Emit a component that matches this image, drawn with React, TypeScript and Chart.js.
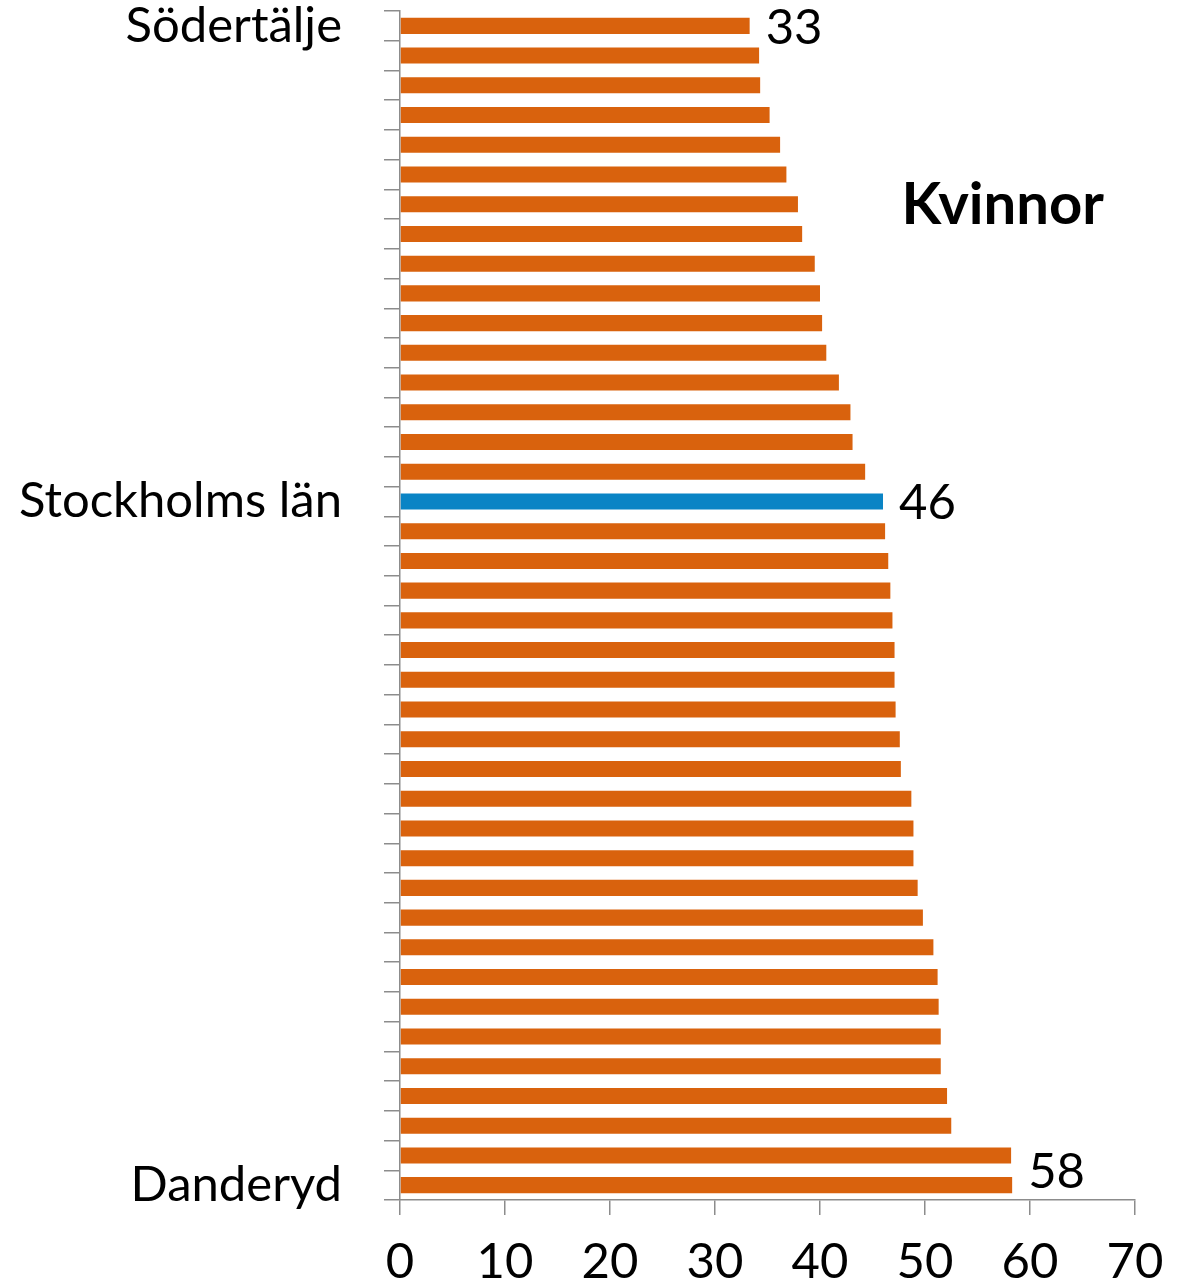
import React, { useEffect, useRef } from "react";
import { Chart, registerables } from "chart.js";

Chart.register(...registerables);

const categories: string[] = [
  "Södertälje", "", "", "", "", "", "", "", "", "", "", "", "", "", "", "",
  "Stockholms län",
  "", "", "", "", "", "", "", "", "", "", "", "", "", "", "", "", "", "", "", "", "", "",
  "Danderyd",
];

const values: number[] = [
  33.3, 34.2, 34.3, 35.2, 36.2, 36.8, 37.9, 38.3, 39.5, 40.0,
  40.2, 40.6, 41.8, 42.9, 43.1, 44.3, 46.0, 46.2, 46.5, 46.7,
  46.9, 47.1, 47.1, 47.2, 47.6, 47.7, 48.7, 48.9, 48.9, 49.3,
  49.8, 50.8, 51.2, 51.3, 51.5, 51.5, 52.1, 52.5, 58.2, 58.3,
];

const highlightIndex = 16;
const labeledIndices: number[] = [0, 16, 39];
const labelTexts: string[] = ["33", "46", "58"];
const titleText = "Kvinnor";

const ORANGE = "#D9620D";
const BLUE = "#0A84C5";
const AXIS = "#8C8C8C";
const FONT = "Lato";

export default function App() {
  const ref = useRef<HTMLCanvasElement | null>(null);

  useEffect(() => {
    if (!ref.current) return;
    const labelPlugin = {
      id: "valueLabels",
      afterDatasetsDraw(chart: any) {
        const ctx = chart.ctx;
        const meta = chart.getDatasetMeta(0);
        ctx.save();
        ctx.fillStyle = "#000";
        ctx.font = `49px ${FONT}`;
        ctx.textAlign = "left";
        ctx.textBaseline = "middle";
        labeledIndices.forEach((idx, i) => {
          const bar = meta.data[idx];
          const dy = idx === values.length - 1 ? -13 : 2;
          ctx.fillText(labelTexts[i], bar.x + 16, bar.y + dy);
        });
        const area = chart.chartArea;
        ctx.font = `bold 58px ${FONT}`;
        ctx.textAlign = "center";
        ctx.fillText(titleText, area.left + (area.right - area.left) * 0.82, area.top + (area.bottom - area.top) * 0.163);
        ctx.restore();
      },
    };

    const chart = new Chart(ref.current, {
      type: "bar",
      data: {
        labels: categories,
        datasets: [
          {
            data: values,
            backgroundColor: values.map((_, i) => (i === highlightIndex ? BLUE : ORANGE)),
            barPercentage: 0.54,
            categoryPercentage: 1,
          },
        ],
      },
      options: {
        indexAxis: "y",
        animation: false,
        responsive: false,
        layout: { padding: { top: 11, right: 44, left: 0, bottom: 0 } },
        plugins: { legend: { display: false }, tooltip: { enabled: false } },
        scales: {
          x: {
            min: 0,
            max: 70,
            ticks: {
              stepSize: 10,
              color: "#000",
              font: { family: FONT, size: 49 },
              padding: 18,
              maxRotation: 0,
            },
            grid: { drawOnChartArea: false, drawTicks: true, tickLength: 15, color: AXIS, lineWidth: 1.5 },
            border: { display: true, color: AXIS, width: 1.5 },
            afterFit: (scale: any) => {
              scale.height = 86;
              scale.paddingLeft = 0;
              scale.paddingRight = 0;
            },
          },
          y: {
            offset: true,
            ticks: {
              autoSkip: false,
              color: "#000",
              font: { family: FONT, size: 49 },
              padding: 42,
            },
            grid: { offset: true, drawOnChartArea: false, drawTicks: true, tickLength: 16, color: AXIS, lineWidth: 1.5 },
            border: { display: true, color: AXIS, width: 1.5 },
            afterFit: (scale: any) => {
              scale.width = 400;
              scale.paddingTop = 0;
              scale.paddingBottom = 0;
            },
          },
        },
      },
      plugins: [labelPlugin],
    } as any);

    return () => chart.destroy();
  }, []);

  return (
    <div style={{ position: "absolute", left: 0, top: 0, width: 1179, height: 1286, background: "#fff" }}>
      <canvas ref={ref} width={1179} height={1286} />
    </div>
  );
}
